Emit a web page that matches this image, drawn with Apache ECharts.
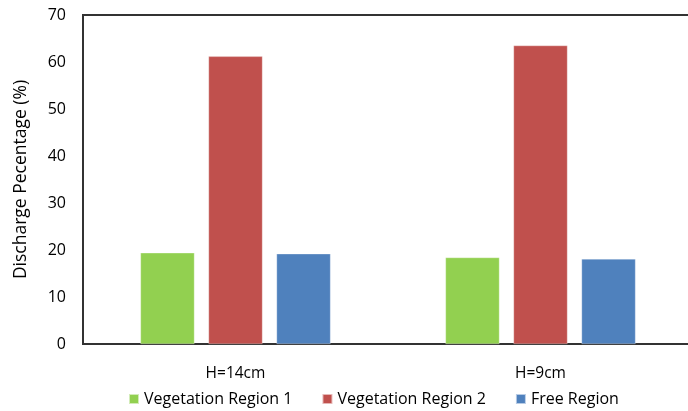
<!DOCTYPE html>
<html>
<head>
<meta charset="utf-8">
<script src="https://cdn.jsdelivr.net/npm/echarts@6/dist/echarts.min.js"></script>
<style>
  html, body { margin: 0; padding: 0; background: #fff; }
  #chart { width: 688px; height: 411px; }
</style>
</head>
<body>
<div id="chart"></div>
<script>
// Water depth cases on the x axis
const categories = ['H=14cm', 'H=9cm'];
// Share of total discharge carried by each region (%)
const vegetationRegion1 = [19.4, 18.4];
const vegetationRegion2 = [61.2, 63.5];
const freeRegion = [19.2, 18.1];
const seriesNames = ['Vegetation Region 1', 'Vegetation Region 2', 'Free Region'];
const yTicks = { min: 0, max: 70, interval: 10 };

const font = '"Open Sans", "Noto Sans", sans-serif';
const colors = ['#92D050', '#C0504D', '#4F81BD'];
const values = [vegetationRegion1, vegetationRegion2, freeRegion];

const chart = echarts.init(document.getElementById('chart'), null, { renderer: 'canvas' });

chart.setOption({
  animation: false,
  backgroundColor: '#fff',
  // the plot frame runs past the right edge of the page
  grid: {
    left: 83, top: 15, width: 610, height: 329,
    outerBoundsMode: 'none',
    containLabel: false,
    show: true, borderColor: '#333', borderWidth: 2, backgroundColor: 'transparent'
  },
  legend: {
    left: 128, top: 391, padding: 0,
    itemWidth: 10, itemHeight: 10, itemGap: 29,
    icon: 'rect',
    textStyle: { fontFamily: font, fontSize: 16, color: '#000' },
    data: seriesNames
  },
  xAxis: {
    type: 'category',
    data: categories,
    axisLine: { lineStyle: { color: '#333', width: 1.5 } },
    axisTick: { show: false },
    axisLabel: { fontFamily: font, fontSize: 15.5, color: '#000', margin: 22 }
  },
  yAxis: {
    type: 'value',
    min: yTicks.min, max: yTicks.max, interval: yTicks.interval,
    name: 'Discharge Pecentage (%)',
    nameLocation: 'middle',
    nameGap: 53,
    nameTextStyle: { fontFamily: font, fontSize: 17.5, color: '#000' },
    axisLine: { show: true, lineStyle: { color: '#333', width: 1.5 } },
    axisTick: { show: false },
    splitLine: { show: false },
    axisLabel: { fontFamily: font, fontSize: 16, color: '#000', margin: 17 }
  },
  series: seriesNames.map((name, i) => ({
    name,
    type: 'bar',
    data: values[i],
    barWidth: 54,
    barGap: '26%',
    itemStyle: { color: colors[i], borderColor: 'rgba(255,255,255,0.6)', borderWidth: 0.5 }
  }))
});
</script>
</body>
</html>
